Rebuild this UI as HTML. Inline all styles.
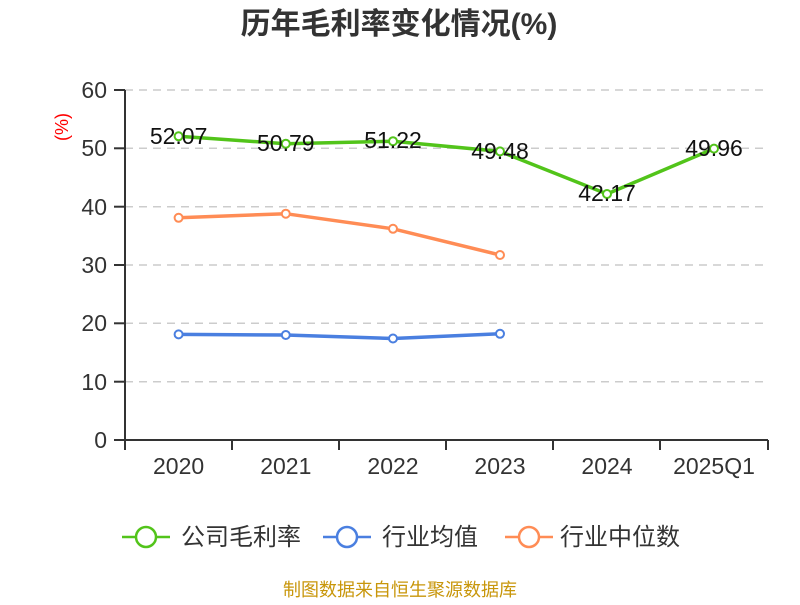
<!DOCTYPE html>
<html><head><meta charset="utf-8"><style>
body{margin:0;background:#fff;}
svg text{font-family:"Liberation Sans","Noto Sans CJK SC",sans-serif;}
</style></head><body>
<svg width="800" height="600" xmlns="http://www.w3.org/2000/svg">
<text x="399" y="34" text-anchor="middle" font-size="30" font-weight="bold" fill="#333">历年毛利率变化情况(%)</text>
<g stroke="#ccc" stroke-width="1.5" stroke-dasharray="8,6">
<line x1="125" y1="90" x2="768" y2="90"/><line x1="125" y1="148.3" x2="768" y2="148.3"/>
<line x1="125" y1="206.7" x2="768" y2="206.7"/><line x1="125" y1="265" x2="768" y2="265"/>
<line x1="125" y1="323.3" x2="768" y2="323.3"/><line x1="125" y1="381.7" x2="768" y2="381.7"/>
</g>
<g stroke="#333" stroke-width="2">
<line x1="125" y1="90" x2="125" y2="440"/><line x1="125" y1="440" x2="768" y2="440"/>
<line x1="114" y1="90" x2="125" y2="90"/><line x1="114" y1="148.3" x2="125" y2="148.3"/>
<line x1="114" y1="206.7" x2="125" y2="206.7"/><line x1="114" y1="265" x2="125" y2="265"/>
<line x1="114" y1="323.3" x2="125" y2="323.3"/><line x1="114" y1="381.7" x2="125" y2="381.7"/>
<line x1="114" y1="440" x2="125" y2="440"/>
<line x1="125" y1="440" x2="125" y2="450"/><line x1="232" y1="440" x2="232" y2="450"/>
<line x1="339" y1="440" x2="339" y2="450"/><line x1="446" y1="440" x2="446" y2="450"/>
<line x1="553" y1="440" x2="553" y2="450"/><line x1="660" y1="440" x2="660" y2="450"/>
<line x1="768" y1="440" x2="768" y2="450"/>
</g>
<g font-size="23" fill="#333" text-anchor="end">
<text x="107" y="98">60</text><text x="107" y="156">50</text><text x="107" y="215">40</text>
<text x="107" y="273">30</text><text x="107" y="331">20</text><text x="107" y="390">10</text><text x="107" y="448">0</text>
</g>
<text transform="translate(68,127) rotate(-90)" font-size="18" fill="red" text-anchor="middle">(%)</text>
<g font-size="23" fill="#333" text-anchor="middle">
<text x="178.6" y="474">2020</text><text x="285.8" y="474">2021</text><text x="393" y="474">2022</text>
<text x="500" y="474">2023</text><text x="607" y="474">2024</text><text x="714" y="474">2025Q1</text>
</g>
<polyline fill="none" stroke="#52c41a" stroke-width="3.5" points="178.6,136.3 285.8,143.7 393,141.2 500,151.4 607,194 714,148.6"/>
<polyline fill="none" stroke="#ff8c55" stroke-width="3.5" points="178.6,217.8 285.8,213.7 393,228.8 500,255"/>
<polyline fill="none" stroke="#4a7fe0" stroke-width="3.5" points="178.6,334.4 285.8,335 393,338.5 500,333.8"/>
<g fill="#fff" stroke-width="2">
<g stroke="#52c41a"><circle cx="178.6" cy="136.3" r="4"/><circle cx="285.8" cy="143.7" r="4"/><circle cx="393" cy="141.2" r="4"/><circle cx="500" cy="151.4" r="4"/><circle cx="607" cy="194" r="4"/><circle cx="714" cy="148.6" r="4"/></g>
<g stroke="#ff8c55"><circle cx="178.6" cy="217.8" r="4"/><circle cx="285.8" cy="213.7" r="4"/><circle cx="393" cy="228.8" r="4"/><circle cx="500" cy="255" r="4"/></g>
<g stroke="#4a7fe0"><circle cx="178.6" cy="334.4" r="4"/><circle cx="285.8" cy="335" r="4"/><circle cx="393" cy="338.5" r="4"/><circle cx="500" cy="333.8" r="4"/></g>
</g>
<g font-size="23" fill="#111" text-anchor="middle">
<text x="178.6" y="144">52.07</text><text x="285.8" y="151">50.79</text><text x="393" y="148">51.22</text>
<text x="500" y="159">49.48</text><text x="607" y="201">42.17</text><text x="714" y="156">49.96</text>
</g>
<g stroke-width="2.5" fill="#fff">
<line x1="122" y1="537" x2="170" y2="537" stroke="#52c41a"/><circle cx="146" cy="537" r="10" stroke="#52c41a"/>
<line x1="323" y1="537" x2="371" y2="537" stroke="#4a7fe0"/><circle cx="347" cy="537" r="10" stroke="#4a7fe0"/>
<line x1="505" y1="537" x2="553" y2="537" stroke="#ff8c55"/><circle cx="529" cy="537" r="10" stroke="#ff8c55"/>
</g>
<g font-size="24" fill="#333">
<text x="181" y="545">公司毛利率</text><text x="382" y="545">行业均值</text><text x="560" y="545">行业中位数</text>
</g>
<text x="400" y="596" text-anchor="middle" font-size="18" fill="#c8960a">制图数据来自恒生聚源数据库</text>
</svg>
</body></html>
